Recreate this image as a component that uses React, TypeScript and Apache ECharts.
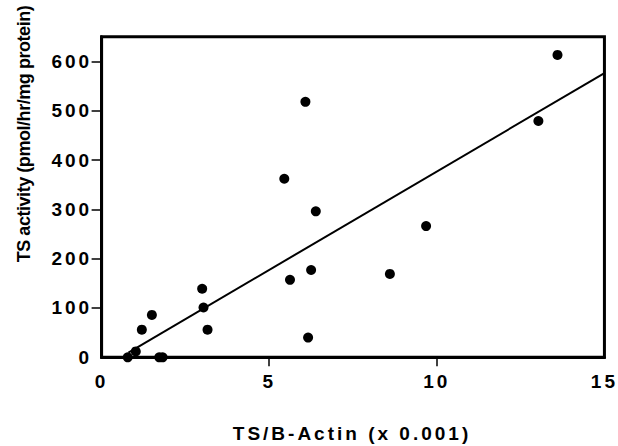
import React, { useEffect, useRef } from "react";
import * as echarts from "echarts";

const tsActin = [0.78, 1.02, 1.2, 1.5, 1.72, 1.82, 3.0, 3.04, 3.16, 5.45, 5.62, 6.08, 6.16, 6.25, 6.39, 8.6, 9.68, 13.03, 13.6];
const tsActivity = [0, 12, 56, 86, 0, 0, 139, 101, 56, 362, 157, 518, 40, 177, 296, 169, 266, 479, 613];
const fitSlope = 39.9;
const fitIntercept = -22.3;
const fitRange = [0.8, 15];
const xTicks = [0, 5, 10, 15];
const xTickMarks = [5, 10];
const yTicks = [0, 100, 200, 300, 400, 500, 600];
const yTickMarks = [100, 200, 300, 400, 500, 600];
const xTitle = "TS/B-Actin (x 0.001)";
const yTitle = "TS activity (pmol/hr/mg protein)";

const FONT = '"Liberation Sans", Arial, Helvetica, sans-serif';

export default function App() {
  const ref = useRef<HTMLDivElement>(null);
  useEffect(() => {
    if (!ref.current) return;
    const chart = echarts.init(ref.current, undefined, { renderer: "svg" });
    const points = tsActin.map((x, i) => [x, tsActivity[i]]);
    const fit = fitRange.map((x) => [x, fitIntercept + fitSlope * x]);
    chart.setOption({
      animation: false,
      grid: {
        left: 101.6,
        right: 12,
        top: 36.7,
        bottom: 88.7,
        show: true,
        borderColor: "#000",
        borderWidth: 3,
        backgroundColor: "transparent",
      },
      xAxis: {
        type: "value",
        min: 0,
        max: 15,
        interval: 5,
        splitLine: { show: false },
        axisLine: { show: true, onZero: false, lineStyle: { color: "#000", width: 3 } },
        axisTick: { show: true, length: 9, customValues: xTickMarks, lineStyle: { color: "#000", width: 1.5 } },
        axisLabel: {
          customValues: xTicks,
          color: "#000",
          fontFamily: FONT,
          fontWeight: "bold",
          fontSize: 19,
          margin: 15,
        },
      },
      yAxis: {
        type: "value",
        min: 0,
        max: 650,
        interval: 100,
        splitLine: { show: false },
        axisLine: { show: true, onZero: false, lineStyle: { color: "#000", width: 3 } },
        axisTick: { show: true, length: 10, customValues: yTickMarks, lineStyle: { color: "#000", width: 1.5 } },
        axisLabel: {
          customValues: yTicks,
          color: "#000",
          fontFamily: FONT,
          fontWeight: "bold",
          fontSize: 19,
          margin: 9.5,
          padding: [5, 0, 0, 0],
        },
      },
      graphic: [
        {
          type: "text",
          x: 352,
          y: 433,
          style: {
            text: xTitle,
            fill: "#000",
            font: `bold 19px ${FONT}`,
            textAlign: "center",
            textVerticalAlign: "middle",
          },
        },
        {
          type: "text",
          x: 24,
          y: 134,
          rotation: Math.PI / 2,
          style: {
            text: yTitle,
            fill: "#000",
            font: `bold 18px ${FONT}`,
            textAlign: "center",
            textVerticalAlign: "middle",
          },
        },
      ],
      series: [
        {
          type: "line",
          data: fit,
          showSymbol: false,
          symbol: "none",
          lineStyle: { color: "#000", width: 2 },
          silent: true,
          z: 2,
        },
        {
          type: "scatter",
          data: points,
          symbol: "circle",
          symbolSize: 10,
          itemStyle: { color: "#000", opacity: 1 },
          z: 3,
        },
      ],
    });
    ref.current.querySelectorAll("text").forEach((t) => {
      const el = t as SVGTextElement;
      if ((t.textContent || "").startsWith("TS activity")) {
        el.style.letterSpacing = "-0.45px";
      } else {
        el.style.letterSpacing = "3px";
      }
    });
    return () => chart.dispose();
  }, []);
  return <div ref={ref} style={{ width: 618, height: 446, position: "absolute", left: 0, top: 0, background: "#fff" }} />;
}
